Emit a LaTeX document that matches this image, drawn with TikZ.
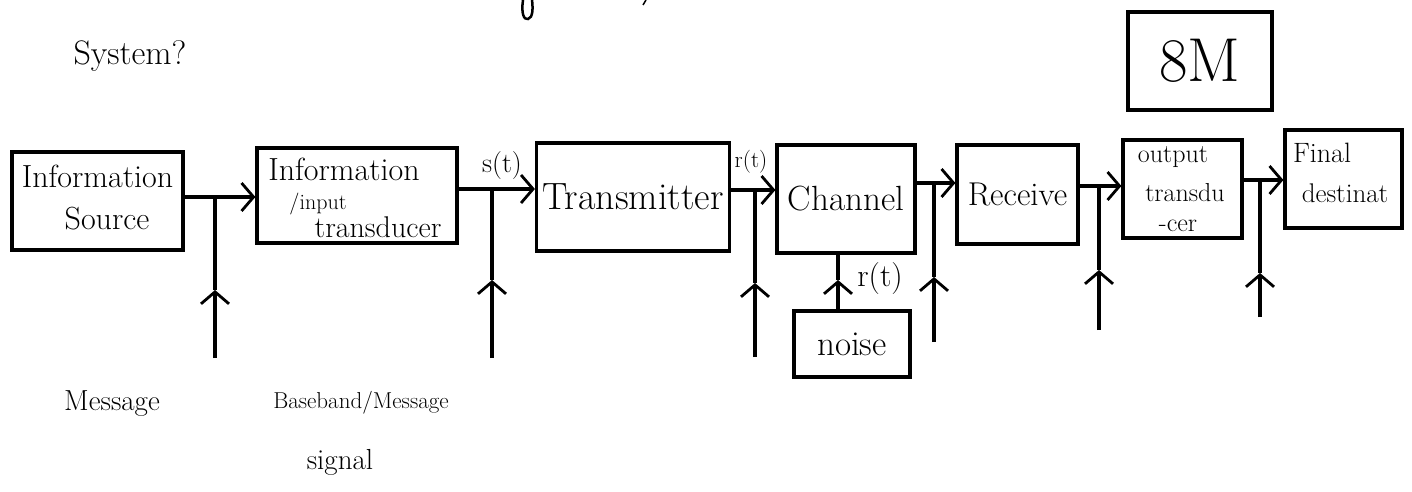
\documentclass[tikz,border=0pt]{standalone}
\usepackage{fontspec}
\usetikzlibrary{arrows.meta}
\newcommand\fsz[2]{\fontsize{#1}{#2}\selectfont}
\begin{document}
\begin{tikzpicture}[x=1pt,y=-1pt,
  box/.style={draw,line width=3.2pt,rectangle,inner sep=2pt,align=center},
  wire/.style={line width=3.2pt},
  arr/.style={wire,-{Straight Barb[length=12pt,width=28pt,line width=2.8pt]}},
  lbl/.style={inner sep=0pt,align=center}]
\useasboundingbox (0,0) rectangle (1412,492);

% heading fragments
\draw[line width=2.5pt] (523,0) .. controls (521,14) and (524,20) .. (528,19) .. controls (533,18) and (533,8) .. (532,0);
\draw[line width=1.5pt] (646,0) -- (643,5);
\node[lbl,font=\fsz{34}{38}] (title) at (130,56) {System?};

% top tag
\node[box,minimum width=144pt,minimum height=98pt,font=\fsz{62}{66}] (tag) at (1200,61) {8M};

% blocks
\node[box,minimum width=171pt,minimum height=98pt] (src) at (97.5,201) {};
\node[box,minimum width=200pt,minimum height=95pt] (inp) at (357,195.5) {};
\node[box,minimum width=193pt,minimum height=108pt,font=\fsz{38}{40}] (tx) at (633,197) {Transmitter};
\node[box,minimum width=138pt,minimum height=108pt,font=\fsz{35}{38}] (ch) at (846,199) {Channel};
\node[box,minimum width=121pt,minimum height=99pt,font=\fsz{33}{36}] (rx) at (1017.5,194.5) {Receive};
\node[box,minimum width=119pt,minimum height=98pt] (out) at (1182.5,189) {};
\node[box,minimum width=117pt,minimum height=98pt] (fin) at (1343.5,179) {};
\node[box,minimum width=116pt,minimum height=66pt,font=\fsz{35}{38}] (noise) at (852,344) {noise};

% box texts
\node[lbl,font=\fsz{32}{34}] (srcA) at (src.center |- 0,176) {Information};
\node[lbl,font=\fsz{32}{34}] (srcB) at (107,219) {Source};
\node[lbl,font=\fsz{32}{34}] (inpA) at (344,169) {Information};
\node[lbl,font=\fsz{22}{24}] (inpB) at (318,204) {/input};
\node[lbl,font=\fsz{30}{32}] (inpC) at (378,227) {transducer};
\node[lbl,font=\fsz{26}{28}] (outA) at (1173,157) {output};
\node[lbl,font=\fsz{26}{28}] (outB) at (1185,193) {transdu};
\node[lbl,font=\fsz{26}{28}] (outC) at (1178,226) {-cer};
\node[lbl,font=\fsz{28}{30}] (finA) at (1322,153) {Final};
\node[lbl,font=\fsz{27}{30}] (finB) at (1345,193) {destinat};

% junction coordinates
\coordinate (j1) at (215,197);  \coordinate (m1) at (215,290);  \coordinate (b1) at (215,358);
\coordinate (j2) at (492,189);  \coordinate (m2) at (492,280);  \coordinate (b2) at (492,358);
\coordinate (j3) at (755,190);  \coordinate (m3) at (755,283);  \coordinate (b3) at (755,357);
\coordinate (j4) at (934,183);  \coordinate (m4) at (934,277);  \coordinate (b4) at (934,342);
\coordinate (j5) at (1099,186); \coordinate (m5) at (1099,270); \coordinate (b5) at (1099,330);
\coordinate (j6) at (1260,180); \coordinate (m6) at (1260,273); \coordinate (b6) at (1260,317);
\coordinate (mn) at (838,280);

% forward chain
\draw[arr] (src.east |- j1) -- (inp.west |- j1);
\draw[arr] (inp.east |- j2) -- (tx.west |- j2);
\draw[arr] (tx.east |- j3) -- (ch.west |- j3);
\draw[arr] (ch.east |- j4) -- (rx.west |- j4);
\draw[arr] (rx.east |- j5) -- (out.west |- j5);
\draw[arr] (out.east |- j6) -- (fin.west |- j6);

% vertical taps with mid arrows
\foreach \i in {1,...,6}{
  \draw[arr] (b\i) -- (m\i);
  \draw[wire] (m\i) -- (j\i);
}

% noise into channel
\draw[arr] (noise.north -| mn) -- (mn);
\draw[wire] (mn) -- (ch.south -| mn);

% labels
\node[lbl,font=\fsz{28}{30}] (st) at (502,166) {s(t)};
\node[lbl,font=\fsz{23}{26}] (rt) at (751,162) {r(t)};
\node[lbl,font=\fsz{32}{34}] (rt2) at (880,279) {r(t)};
\node[lbl,font=\fsz{29}{32}] (msg) at (112,404) {Message};
\node[lbl,font=\fsz{23}{26}] (bb) at (361,403) {Baseband/Message};
\node[lbl,font=\fsz{29}{32}] (sig) at (340,462) {signal};
\end{tikzpicture}
\end{document}
